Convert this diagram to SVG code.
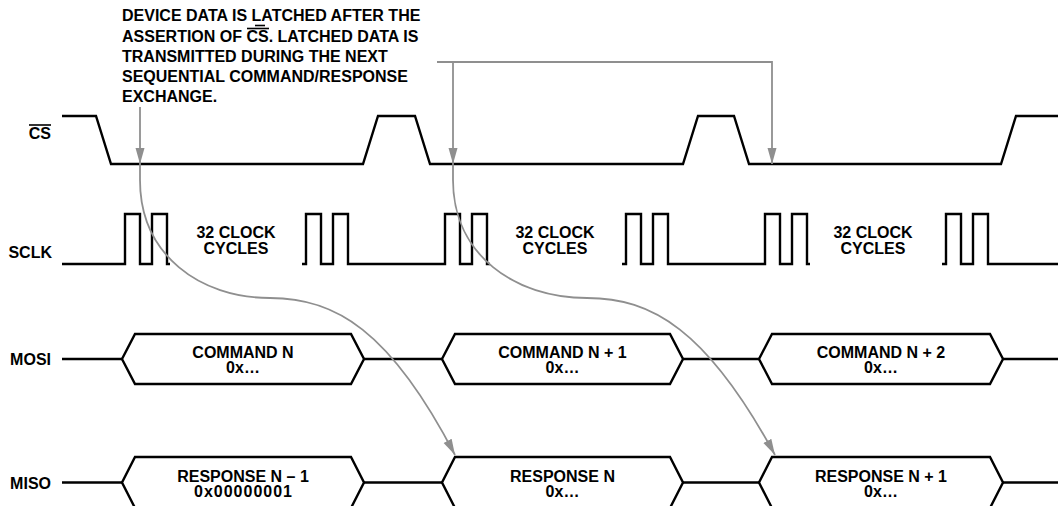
<svg xmlns="http://www.w3.org/2000/svg" width="1058" height="506" viewBox="0 0 1058 506">
  <style>
    .t { font-family: "Liberation Sans", Arial, sans-serif; font-weight: bold; font-size: 16px; fill: #000; }
    .c { text-anchor: middle; }
    .e { text-anchor: end; }
    .sig { fill: none; stroke: #000; stroke-width: 2.4; stroke-linejoin: miter; }
    .box { fill: #fff; stroke: #000; stroke-width: 2.4; stroke-linejoin: miter; }
    .bar { stroke: #000; stroke-width: 1.6; }
    .con { fill: none; stroke: #8f8f8f; stroke-width: 1.8; }
  </style>
  <defs>
    <marker id="arr" markerUnits="userSpaceOnUse" markerWidth="17" markerHeight="10" refX="16" refY="4.5" orient="auto">
      <path d="M0,0 L16,4.5 L0,9 z" fill="#8f8f8f"/>
    </marker>
  </defs>
  <rect width="1058" height="506" fill="#fff"/>

  <g id="note">
    <text class="t" x="122" y="21">DEVICE DATA IS LATCHED AFTER THE</text>
    <text class="t" x="122" y="41.5">ASSERTION OF CS. LATCHED DATA IS</text>
    <text class="t" x="122" y="62">TRANSMITTED DURING THE NEXT</text>
    <text class="t" x="122" y="82">SEQUENTIAL COMMAND/RESPONSE</text>
    <text class="t" x="122" y="102">EXCHANGE.</text>
    <line class="bar" x1="255" y1="25.5" x2="265" y2="25.5"/>
    <line class="bar" x1="247" y1="28.5" x2="269" y2="28.5"/>
  </g>

  <g id="labels">
    <text class="t e" x="51" y="139">CS</text>
    <line class="bar" x1="29" y1="125" x2="51" y2="125"/>
    <text class="t e" x="52" y="258">SCLK</text>
    <text class="t e" x="51" y="365">MOSI</text>
    <text class="t e" x="51" y="489">MISO</text>
  </g>

  <g id="cs-signal">
    <path class="sig" d="M62,116 H96 L111,164 H363 L378,116 H415 L430,164 H683 L698,116 H734 L749,164 H1001 L1016,116 H1058"/>
  </g>

  <g id="sclk-signal">
    <path class="sig" d="M62,264 H125 V214 H140 V264 H152 V214 H167 V264 H170"/>
    <path class="sig" d="M302,264 H306 V214 H321 V264 H333 V214 H348 V264 H445 V214 H460 V264 H472 V214 H487 V264 H490"/>
    <path class="sig" d="M622,264 H626 V214 H641 V264 H653 V214 H668 V264 H765 V214 H780 V264 H792 V214 H807 V264 H810"/>
    <path class="sig" d="M942,264 H946 V214 H961 V264 H973 V214 H988 V264 H1058"/>
    <text class="t c" x="236" y="238">32 CLOCK</text>
    <text class="t c" x="236" y="254">CYCLES</text>
    <text class="t c" x="555" y="238">32 CLOCK</text>
    <text class="t c" x="555" y="254">CYCLES</text>
    <text class="t c" x="873" y="238">32 CLOCK</text>
    <text class="t c" x="873" y="254">CYCLES</text>
  </g>

  <g id="mosi-line">
    <path class="sig" d="M62,359 H122 M364,359 H442 M683,359 H759 M1003,359 H1058"/>
  </g>
  <g id="cmd-n">
    <path class="box" d="M122,359 L135,334 H351 L364,359 L351,384 H135 Z"/>
    <text class="t c" x="243" y="358">COMMAND N</text>
    <text class="t c" x="243" y="373">0x…</text>
  </g>
  <g id="cmd-n1">
    <path class="box" d="M442,359 L455,334 H670 L683,359 L670,384 H455 Z"/>
    <text class="t c" x="562.5" y="358">COMMAND N + 1</text>
    <text class="t c" x="562.5" y="373">0x…</text>
  </g>
  <g id="cmd-n2">
    <path class="box" d="M759,359 L772,334 H990 L1003,359 L990,384 H772 Z"/>
    <text class="t c" x="881" y="358">COMMAND N + 2</text>
    <text class="t c" x="881" y="373">0x…</text>
  </g>

  <g id="miso-line">
    <path class="sig" d="M62,482.5 H122 M364,482.5 H442 M683,482.5 H759 M1003,482.5 H1058"/>
  </g>
  <g id="resp-n-1">
    <path class="box" d="M122,482.5 L135,457 H351 L364,482.5 L351,508 H135 Z"/>
    <text class="t c" x="243" y="482">RESPONSE N – 1</text>
    <text class="t c" x="243.5" y="497" letter-spacing="1">0x00000001</text>
  </g>
  <g id="resp-n">
    <path class="box" d="M442,482.5 L455,457 H670 L683,482.5 L670,508 H455 Z"/>
    <text class="t c" x="562.5" y="482">RESPONSE N</text>
    <text class="t c" x="562.5" y="497">0x…</text>
  </g>
  <g id="resp-n1">
    <path class="box" d="M759,482.5 L772,457 H990 L1003,482.5 L990,508 H772 Z"/>
    <text class="t c" x="881" y="482">RESPONSE N + 1</text>
    <text class="t c" x="881" y="497">0x…</text>
  </g>

  <g id="connectors">
    <path class="con" d="M140,107 V164" marker-end="url(#arr)"/>
    <path class="con" d="M140,164 V180 C140,255 200,298 270,298 C335,298 390,330 455,455" marker-end="url(#arr)"/>
    <path class="con" d="M437,62 H772 V164" marker-end="url(#arr)"/>
    <path class="con" d="M453,62 V164" marker-end="url(#arr)"/>
    <path class="con" d="M453,164 V180 C453,255 515,298 587,298 C652,298 707,330 775,455" marker-end="url(#arr)"/>
  </g>
</svg>
